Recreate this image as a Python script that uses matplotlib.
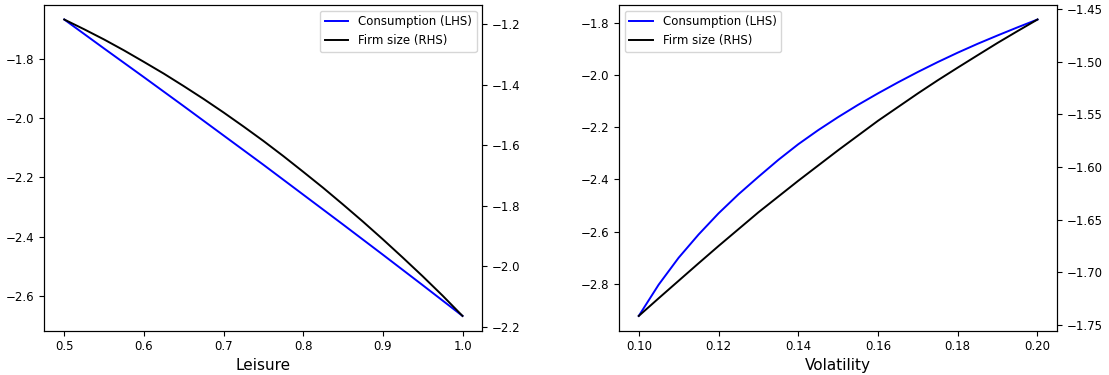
import matplotlib
matplotlib.use("Agg")
from matplotlib import pyplot as plt

# left panel: leisure
leisure = [0.500, 0.525, 0.550, 0.575, 0.600, 0.625, 0.650, 0.675, 0.700, 0.725, 0.750,
           0.775, 0.800, 0.825, 0.850, 0.875, 0.900, 0.925, 0.950, 0.975, 1.000]
cons_leisure = [-1.666, -1.715, -1.764, -1.8125, -1.861, -1.910, -1.959, -2.0085, -2.058, -2.1075, -2.157,
                -2.2075, -2.258, -2.3085, -2.359, -2.410, -2.461, -2.5125, -2.564, -2.616, -2.668]
firm_leisure = [-1.185, -1.2173, -1.251, -1.287, -1.325, -1.3638, -1.405, -1.4475, -1.492, -1.5383, -1.586,
                -1.636, -1.688, -1.7408, -1.796, -1.8525, -1.911, -1.9713, -2.033, -2.097, -2.164]

# right panel: volatility
vol = [0.100, 0.105, 0.110, 0.115, 0.120, 0.125, 0.130, 0.135, 0.140, 0.145, 0.150,
       0.155, 0.160, 0.165, 0.170, 0.175, 0.180, 0.185, 0.190, 0.195, 0.200]
cons_vol = [-2.923, -2.803, -2.700, -2.611, -2.530, -2.457, -2.390, -2.325, -2.265, -2.211, -2.161,
            -2.114, -2.070, -2.028, -1.988, -1.950, -1.914, -1.880, -1.848, -1.817, -1.787]
firm_vol = [-1.7414, -1.7246, -1.708, -1.6914, -1.675, -1.659, -1.643, -1.628, -1.613, -1.5985, -1.584,
            -1.570, -1.556, -1.543, -1.530, -1.5175, -1.5055, -1.4937, -1.482, -1.4708, -1.4598]

panels = [
    (leisure, cons_leisure, firm_leisure, "Leisure", "upper right"),
    (vol, cons_vol, firm_vol, "Volatility", "upper left"),
]

fig = plt.figure(figsize=(11.09, 3.75), dpi=100)
boxes = [[0.040, 0.118, 0.395, 0.8695], [0.558, 0.118, 0.3955, 0.8695]]

for box, (x, c, f, name, loc) in zip(boxes, panels):
    ax = fig.add_axes(box)
    ax2 = ax.twinx()
    l1, = ax.plot(x, c, color="blue", lw=1.4, label="Consumption (LHS)")
    l2, = ax2.plot(x, f, color="black", lw=1.4, label="Firm size (RHS)")
    ax.set_xlabel(name, fontsize=11, labelpad=3)
    ax.tick_params(labelsize=8.5)
    ax2.tick_params(labelsize=8.5)
    ax2.legend([l1, l2], [l1.get_label(), l2.get_label()], loc=loc, fontsize=8.5)

fig.savefig("out.png", dpi=100)
